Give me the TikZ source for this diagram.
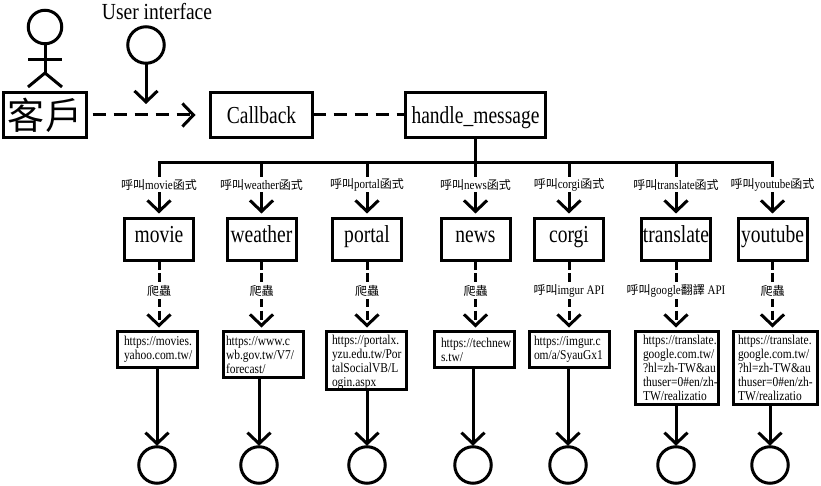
\documentclass[tikz,border=0pt]{standalone}
\usepackage{fontspec}
\setmainfont{Liberation Serif}
\newfontfamily\cjk{Noto Sans CJK TC}
\newfontfamily\narrowA[FakeStretch=0.8]{Liberation Serif}
\newfontfamily\narrowB[FakeStretch=0.85]{Liberation Serif}
\newcommand{\cj}[1]{{\fontsize{12}{13}\selectfont\cjk #1}}
\usetikzlibrary{arrows.meta}
\tikzset{
  x=1pt,y=-1pt,
  ink/.style={line width=3pt,draw=black},
  bigbox/.style={ink,rectangle,inner sep=0pt,outer sep=0pt,minimum height=45pt,text height=22pt,text depth=4pt,font=\fontsize{24.4}{26}\narrowA},
  funcbox/.style={ink,rectangle,inner sep=0pt,outer sep=0pt,minimum width=69pt,minimum height=42pt,text height=12pt,text depth=5pt,font=\fontsize{24.4}{26}\narrowA},
  urlbox/.style 2 args={ink,rectangle,inner sep=0pt,outer sep=0pt,text width=#1pt,minimum height=#2pt,align=left,font=\fontsize{13.5}{14}\narrowB},
  pad/.style={execute at begin node={\leftskip=#1pt\relax\hyphenpenalty=10000\relax}},
  ball/.style={ink,circle,inner sep=0pt,outer sep=0pt,minimum size=36.5pt},
  link/.style={ink,line cap=butt},
  tipped/.style={link,-{Straight Barb[length=11pt,width=23pt,line width=3pt]}},
  dashline/.style={dash pattern=on 13pt off 8pt},
  shortdash/.style={dash pattern=on 9pt off 3.5pt},
  lbl/.style={fill=white,inner xsep=0.5pt,inner ysep=0pt,minimum height=15pt,font=\fontsize{13}{13}\narrowB},
}
\begin{document}
\begin{tikzpicture}
\useasboundingbox (0,0) rectangle (821,486);
% client side
\node[ball,minimum size=33.5pt] (head) at (45,27) {};
\coordinate (hip) at (45,73);
\coordinate (armL) at (28,60);
\coordinate (armR) at (62,60);
\coordinate (legL) at (28,87);
\coordinate (legR) at (62,87);
\draw[link] (head.south) -- (hip);
\draw[link] (armL) -- (armR);
\draw[link] (legL) -- (hip) -- (legR);
\node[ink,rectangle,inner sep=0pt,outer sep=0pt,minimum height=45pt,minimum width=83pt] (kehu) at (45,115) {\fontsize{37}{38}\cjk 客戶};
\node[font=\fontsize{23}{24}\narrowB,inner sep=0pt] (uilabel) at (157,12) {User interface};
\node[ball] (ui) at (146,45) {};
\coordinate (uitip) at (146,104);
\draw[tipped] (ui.south) -- (uitip);
\node[bigbox,minimum width=102pt] (callback) at (261.5,115) {Callback};
\node[bigbox,minimum width=140pt] (handle) at (475.5,115) {handle\_message};
\draw[tipped,dashline,shorten <=6pt,shorten >=15pt] (kehu.east) -- (callback.west);
\draw[link,dashline] (callback.east) -- (handle.west);
\coordinate (bus) at (475.5,163);
% function boxes
\foreach \n/\t/\x in {movie/movie/159,weather/weather/261.5,portal/portal/367,news/news/475.5,corgi/corgi/569,translate/translate/676,youtube/youtube/772.5}
  \node[funcbox] (f\n) at (\x,239.5) {\t};
% url boxes
\node[urlbox={80}{36},pad=6.5] (umovie) at (157.5,349.5) {https://movies.\\yahoo.com.tw/};
\node[urlbox={80}{46},pad=2.5] (uweather) at (263.5,354.5) {https://www.c\\wb.gov.tw/V7/\\forecast/};
\node[urlbox={80}{58},pad=5.5] (uportal) at (366.5,360.5) {\rule{0pt}{13pt}https://portalx.\\yzu.edu.tw/Por\\talSocialVB/L\\ogin.aspx};
\node[urlbox={80}{36},pad=6.5] (unews) at (474.5,349.5) {https://technew\\s.tw/};
\node[urlbox={80}{36},pad=4.5] (ucorgi) at (569.5,349.5) {https://imgur.c\\om/a/SyauGx1};
\node[urlbox={83}{73},pad=7.5] (utranslate) at (677,368) {https://translate.\\google.com.tw/\\?hl=zh-TW\&au\\thuser=0\#en/zh-\\TW/realizatio};
\node[urlbox={84}{73},pad=4.5] (uyoutube) at (775.5,368) {https://translate.\\google.com.tw/\\?hl=zh-TW\&au\\thuser=0\#en/zh-\\TW/realizatio};
% end circles
\foreach \n/\x in {movie/157,weather/259,portal/367,news/473,corgi/568,translate/676,youtube/770}
  \node[ball] (c\n) at (\x,465) {};
% bus
\draw[link] (handle.south) -- (bus);
\draw[link,line cap=rect] (fmovie.north |- bus) -- (fyoutube.north |- bus);
% function connectors
\foreach \n/\t in {movie/movie,weather/weather,portal/portal,news/news,corgi/corgi,translate/translate,youtube/youtube}{
  \draw[tipped,shorten >=5pt] (f\n.north |- bus) -- node[lbl,pos=0.39] {\cj{呼叫}\t\cj{函式}} (f\n.north);
}
% crawler connectors
\foreach \n in {movie,weather,portal,news,youtube}{
  \draw[tipped,shortdash,shorten >=4pt] (f\n.south) -- node[lbl,pos=0.43] {\cj{爬蟲}} (f\n.south |- u\n.north);
}
\draw[tipped,shortdash,shorten >=4pt] (fcorgi.south) -- node[lbl,pos=0.43] {\cj{呼叫}imgur API} (fcorgi.south |- ucorgi.north);
\draw[tipped,shortdash,shorten >=4pt] (ftranslate.south) -- node[lbl,pos=0.43] {\cj{呼叫}google\cj{翻譯} API} (ftranslate.south |- utranslate.north);
% result connectors
\foreach \n in {movie,weather,portal,news,corgi,translate,youtube}{
  \draw[tipped,shorten >=1pt] (c\n.north |- u\n.south) -- (c\n.north);
}
\end{tikzpicture}
\end{document}
